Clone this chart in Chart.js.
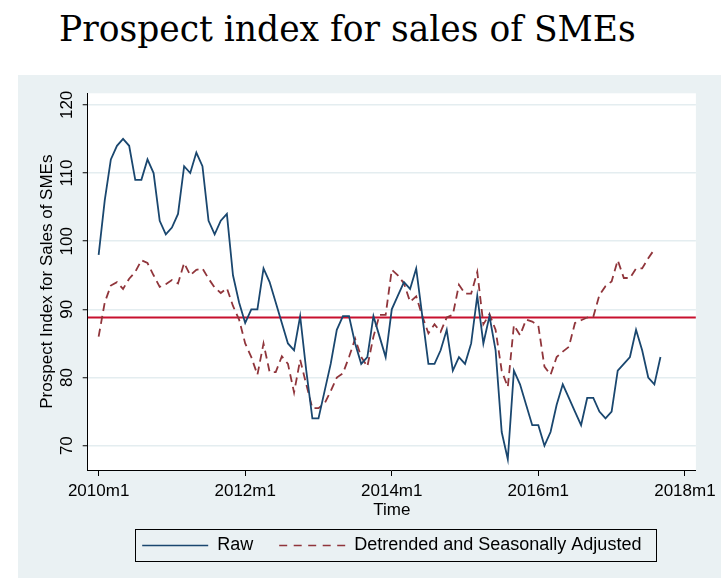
<!DOCTYPE html>
<html>
<head>
<meta charset="utf-8">
<script src="https://cdn.jsdelivr.net/npm/chart.js@4.4.1/dist/chart.umd.min.js"></script>
<style>
  body { margin: 0; background: #fff; width: 721px; height: 580px; position: relative; overflow: hidden; }
  #title { position: absolute; left: 59px; top: 9px; font-family: "DejaVu Serif", serif; font-size: 34.5px; color: #000; white-space: nowrap; }
  #wrap { position: absolute; left: 18px; top: 75px; width: 703px; height: 503px; background: #eaf1f3; }
</style>
</head>
<body>
<div id="title">Prospect index for sales of SMEs</div>
<div id="wrap"><canvas id="chart" width="703" height="503"></canvas></div>
<script>
// monthly, starting 2010m1
const raw = [
  98, 106, 112, 114, 115, 114, 109, 109, 112, 110, 103, 101,
  102, 104, 111, 110, 113, 111, 103, 101, 103, 104, 95, 91,
  88, 90, 90, 96, 94, 91, 88, 85, 84, 89, 81, 74,
  74, 78, 82, 87, 89, 89, 85, 82, 83, 89, 86, 83,
  90, 92, 94, 93, 96, 89, 82, 82, 84, 87, 81, 83,
  82, 85, 92, 85, 89, 84, 72, 68, 81, 79, 76, 73,
  73, 70, 72, 76, 79, 77, 75, 73, 77, 77, 75, 74,
  75, 81, 82, 83, 87, 84, 80, 79, 83
];
const adjusted = [
  86, 91, 93.5, 94, 93, 94.5, 95.5, 97.2, 96.8, 95, 93.3, 93.7,
  94.3, 93.8, 96.8, 95, 95.8, 96, 94.5, 93.2, 92.4, 93.1, 90.5, 88.5,
  85, 83, 80.4, 85, 80.8, 80.8, 83.1, 82, 77.8, 82.6, 79, 75.5,
  75.5, 76.2, 78, 80, 80.6, 83, 85.7, 83, 81.6, 86, 89.2, 89.2,
  95.8, 95, 93.8, 91.1, 91.9, 89, 86.5, 87.8, 86.7, 88.8, 89.2, 93.6,
  92.3, 92.3, 95.5, 87.8, 89.3, 87, 81, 78.6, 87.7, 86.2, 88.5, 88.2,
  87.6, 81.6, 80.4, 83, 83.8, 84.5, 88, 88.4, 88.8, 88.9, 92.1, 93.4,
  94.1, 97.2, 94.6, 94.6, 96, 96, 97.5, 98.8
];
const refLevel = 88.8;
const tickMonths = [0, 24, 48, 72, 96];
const tickLabels = ["2010m1", "2012m1", "2014m1", "2016m1", "2018m1"];
const yTicks = [70, 80, 90, 100, 110, 120];

const xMin = -1.79, xMax = 97.8;
const font = { family: '"Liberation Sans", Arial, sans-serif', size: 17 };
const legendFont = { family: '"Liberation Sans", Arial, sans-serif', size: 18 };

const plotBg = {
  id: "plotBg",
  beforeDraw(chart) {
    const { ctx, chartArea: a } = chart;
    ctx.save();
    ctx.fillStyle = "#ffffff";
    ctx.fillRect(a.left, a.top, a.right - a.left, a.bottom - a.top);
    ctx.restore();
  },
};

const legendFrame = {
  id: "legendFrame",
  afterDraw(chart) {
    const boxes = chart.legend.legendHitBoxes;
    if (!boxes || !boxes.length) return;
    const first = boxes[0];
    const last = boxes[boxes.length - 1];
    const left = Math.round(first.left - 7) + 0.5;
    const right = Math.round(last.left + last.width + 15) + 0.5;
    const top = Math.round(first.top + first.height / 2 - 16.5) + 0.5;
    const ctx = chart.ctx;
    ctx.save();
    ctx.strokeStyle = "#000";
    ctx.lineWidth = 1;
    ctx.strokeRect(left, top, right - left, 32);
    ctx.restore();
  },
};

new Chart(document.getElementById("chart"), {
  type: "line",
  data: {
    datasets: [
      {
        label: "Raw",
        data: raw.map((v, i) => ({ x: i, y: v })),
        borderColor: "#1a476f",
        borderWidth: 1.8,
        pointRadius: 0,
        tension: 0,
      },
      {
        label: "Detrended and Seasonally Adjusted",
        data: adjusted.map((v, i) => ({ x: i, y: v })),
        borderColor: "#90353b",
        borderWidth: 1.8,
        borderDash: [8, 5],
        pointRadius: 0,
        tension: 0,
      },
      {
        label: "mean",
        data: [{ x: xMin, y: refLevel }, { x: xMax, y: refLevel }],
        borderColor: "#c8102e",
        borderWidth: 2,
        pointRadius: 0,
      },
    ],
  },
  options: {
    responsive: false,
    animation: false,
    layout: { padding: { left: 0, right: 21, top: 18.3, bottom: 13.5 } },
    plugins: {
      tooltip: { enabled: false },
      legend: {
        position: "bottom",
        fullSize: false,
        labels: {
          usePointStyle: true,
          pointStyle: "line",
          pointStyleWidth: 66,
          padding: 26,
          color: "#000",
          font: legendFont,
          filter: (item) => item.datasetIndex < 2,
          generateLabels: (chart) => {
            const items = Chart.defaults.plugins.legend.labels.generateLabels(chart);
            items.forEach((item) => {
              const ds = chart.data.datasets[item.datasetIndex];
              item.lineWidth = 1.6;
              item.strokeStyle = ds.borderColor;
              item.lineDash = ds.borderDash ? [8, 6.5] : [];
            });
            return items;
          },
        },
      },
    },
    scales: {
      x: {
        type: "linear",
        min: xMin,
        max: xMax,
        afterBuildTicks: (s) => { s.ticks = tickMonths.map((v) => ({ value: v })); },
        afterFit: (s) => { s.height = 40.5; },
        border: { display: true, color: "#000", width: 1 },
        grid: { drawOnChartArea: false, tickColor: "#000", tickLength: 6 },
        ticks: {
          autoSkip: false,
          maxRotation: 0,
          minRotation: 0,
          padding: 5,
          color: "#000",
          font: font,
          callback: (v) => tickLabels[tickMonths.indexOf(v)],
        },
        title: { display: true, text: "Time", color: "#000", font: font, padding: { top: 0, bottom: -10 } },
      },
      y: {
        type: "linear",
        min: 66.43,
        max: 121.7,
        afterBuildTicks: (s) => { s.ticks = yTicks.map((v) => ({ value: v })); },
        afterFit: (s) => { s.width = 69.7; },
        border: { display: true, color: "#000", width: 1 },
        grid: { color: "#e4edf0", lineWidth: 1.5, tickColor: "#000", tickLength: 5, tickWidth: 1 },
        ticks: {
          minRotation: 90,
          maxRotation: 90,
          crossAlign: "center",
          padding: 1,
          color: "#000",
          font: font,
        },
        title: {
          display: true,
          text: "Prospect Index for Sales of SMEs",
          color: "#000",
          font: font,
          padding: { top: 19.5, bottom: 0 },
        },
      },
    },
  },
  plugins: [plotBg, legendFrame],
});
</script>
</body>
</html>
